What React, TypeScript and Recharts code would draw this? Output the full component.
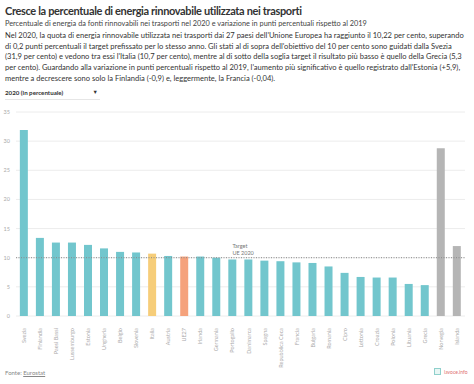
import React from 'react';
import { BarChart, Bar, XAxis, YAxis, CartesianGrid, ReferenceLine, Cell } from 'recharts';

const countries = [
  'Svezia', 'Finlandia', 'Paesi Bassi', 'Lussemburgo', 'Estonia', 'Ungheria', 'Belgio',
  'Slovenia', 'Italia', 'Austria', 'UE27', 'Irlanda', 'Germania', 'Portogallo', 'Danimarca',
  'Spagna', 'Repubblica Ceca', 'Francia', 'Bulgaria', 'Romania', 'Cipro', 'Lettonia',
  'Croazia', 'Polonia', 'Lituania', 'Grecia', 'Norvegia', 'Islanda',
];
const share2020 = [
  31.9, 13.4, 12.6, 12.6, 12.2, 11.6, 11.0, 10.9, 10.7, 10.3, 10.2, 10.2, 10.0, 9.7, 9.7,
  9.5, 9.4, 9.2, 9.1, 8.5, 7.4, 6.7, 6.6, 6.6, 5.5, 5.3, 28.8, 12.0,
];
const yTicks = [0, 5, 10, 15, 20, 25, 30, 35];
const target = 10;

const TEAL = '#72c6cd';
const colorFor = (name: string) => {
  if (name === 'Italia') return '#f6cd79';
  if (name === 'UE27') return '#f5a27c';
  if (name === 'Norvegia' || name === 'Islanda') return '#b5b5b5';
  return TEAL;
};

const data = countries.map((c, i) => ({ name: c, value: share2020[i] }));

const FONT = 'Lato, "Open Sans", sans-serif';

function XTick({ x, y, payload }: any) {
  return (
    <text
      x={x}
      y={y}
      transform={`rotate(-90, ${x}, ${y})`}
      textAnchor="end"
      dominantBaseline="central"
      fontSize={5.5}
      fill="#aaa"
      fontFamily={FONT}
      dx={-4}
    >
      {payload.value}
    </text>
  );
}

function TargetLabel({ viewBox }: any) {
  const x = viewBox.x + viewBox.width * 0.482;
  const y = viewBox.y;
  return (
    <text fontSize={5.5} fill="#777" fontFamily={FONT}>
      <tspan x={x} y={y - 10}>Target</tspan>
      <tspan x={x} y={y - 3}>UE 2020</tspan>
    </text>
  );
}

export default function App() {
  return (
    <div style={{ position: 'absolute', left: 0, top: 0, width: 474, height: 384, background: '#fff', fontFamily: FONT, color: '#333' }}>
      <div style={{ position: 'absolute', left: 5, top: 4, fontSize: 11, fontWeight: 700, color: '#333', whiteSpace: 'nowrap', letterSpacing: -0.35 }}>
        Cresce la percentuale di energia rinnovabile utilizzata nei trasporti
      </div>
      <div style={{ position: 'absolute', left: 5, top: 19, fontSize: 7.35, color: '#444', whiteSpace: 'nowrap' }}>
        Percentuale di energia da fonti rinnovabili nei trasporti nel 2020 e variazione in punti percentuali rispetto al 2019
      </div>
      <div style={{ position: 'absolute', left: 5, top: 31, width: 462, fontSize: 7.55, lineHeight: '10.7px', color: '#333' }}>
        Nel 2020, la quota di energia rinnovabile utilizzata nei trasporti dai 27 paesi dell'Unione Europea ha raggiunto il 10,22 per cento, superando di 0,2 punti percentuali il target prefissato per lo stesso anno. Gli stati al di sopra dell'obiettivo del 10 per cento sono guidati dalla Svezia (31,9 per cento) e vedono tra essi l'Italia (10,7 per cento), mentre al di sotto della soglia target il risultato più basso è quello della Grecia (5,3 per cento). Guardando alla variazione in punti percentuali rispetto al 2019, l'aumento più significativo è quello registrato dall'Estonia (+5,9), mentre a decrescere sono solo la Finlandia (-0,9) e, leggermente, la Francia (-0,04).
      </div>
      <div style={{ position: 'absolute', left: 5, top: 89, width: 95, height: 10, borderBottom: '1px solid #e6e6e6', fontSize: 6.2, fontWeight: 700, color: '#333' }}>
        2020 (in percentuale)
        <span style={{ position: 'absolute', right: 2, top: 0, fontSize: 5.5 }}>▼</span>
      </div>

      <div style={{ position: 'absolute', left: 0, top: 0 }}>
        <BarChart
          width={474}
          height={384}
          data={data}
          margin={{ top: 112, right: 9, bottom: 0, left: 0 }}
          barCategoryGap="24%"
        >
          <CartesianGrid vertical={false} stroke="#ececec" />
          <XAxis
            dataKey="name"
            interval={0}
            tick={<XTick />}
            tickLine={false}
            axisLine={false}
            height={68}
          />
          <YAxis
            domain={[0, 35]}
            ticks={yTicks}
            width={16}
            tickLine={false}
            axisLine={false}
            tickSize={0}
            tickMargin={6}
            tick={{ fontSize: 5.5, fill: '#aaa', fontFamily: FONT }}
          />
          <ReferenceLine y={target} stroke="#888" strokeDasharray="1 1.5" label={<TargetLabel />} />
          <Bar dataKey="value" isAnimationActive={false}>
            {data.map((d) => (
              <Cell key={d.name} fill={colorFor(d.name)} />
            ))}
          </Bar>
        </BarChart>
      </div>

      <div style={{ position: 'absolute', left: 5, top: 369, fontSize: 6, color: '#888' }}>
        Fonte: <span style={{ textDecoration: 'underline' }}>Eurostat</span>
      </div>
      <div style={{ position: 'absolute', left: 434, top: 368, display: 'flex', alignItems: 'center' }}>
        <div style={{ width: 5, height: 5, border: '1px solid #8fd0cc', background: '#e8f6f4', marginRight: 3 }} />
        <span style={{ fontSize: 5, color: '#e07070' }}>lavoce.info</span>
      </div>
    </div>
  );
}
